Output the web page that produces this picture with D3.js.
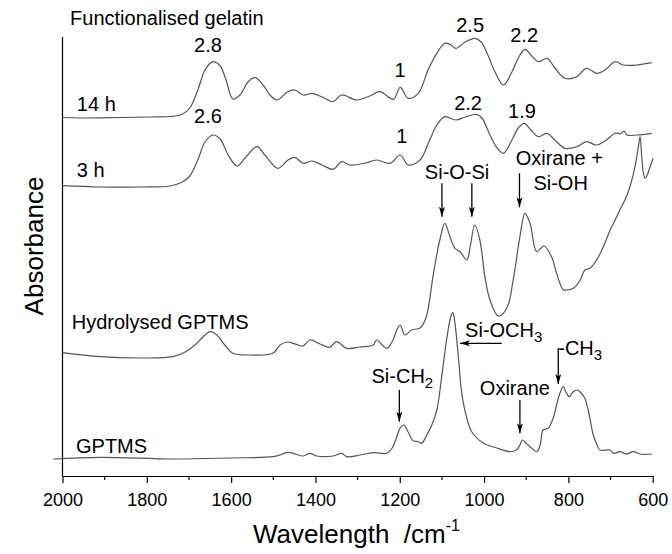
<!DOCTYPE html>
<html>
<head>
<meta charset="utf-8">
<script src="https://cdn.jsdelivr.net/npm/d3@7"></script>
<style>
  html, body { margin: 0; padding: 0; background: #fff; }
  svg { display: block; font-family: "Liberation Sans", Arial, sans-serif; }
</style>
</head>
<body>
<svg id="chart" width="672" height="554"></svg>
<script>
// spectra: [wavenumber /cm-1, absorbance (a.u., offset stacked)]
const gelatin14h = [
  [2000,3.585],[1958,3.58],[1864,3.585],[1792,3.59],[1745,3.595],[1717,3.615],[1698,3.68],[1679,3.86],
  [1662,4.06],[1643,4.143],[1626,4.10],[1612,3.96],[1596,3.77],[1579,3.81],[1560,3.94],[1543,3.983],
  [1524,3.91],[1508,3.81],[1491,3.76],[1467,3.84],[1449,3.86],[1429,3.81],[1408,3.827],[1384,3.79],
  [1358,3.743],[1338,3.81],[1302,3.76],[1271,3.80],[1247,3.843],[1215,3.767],[1199,3.887],[1180,3.777],
  [1156,3.827],[1133,4.06],[1112,4.227],[1093,4.327],[1078,4.31],[1067,4.277],[1045,4.34],[1022,4.377],
  [1007,4.34],[991,4.21],[974,4.04],[954,3.91],[934,4.04],[919,4.18],[903,4.267],[889,4.21],[871,4.143],
  [851,4.177],[832,4.08],[808,3.977],[780,3.993],[757,4.077],[733,4.027],[713,4.06],[689,4.143],
  [670,4.11],[638,4.11],[602,4.133]
];
const gelatin3h = [
  [2000,2.903],[1911,2.89],[1816,2.89],[1745,2.90],[1717,2.937],[1698,3.00],[1679,3.16],[1662,3.34],
  [1643,3.41],[1626,3.37],[1607,3.21],[1586,3.10],[1567,3.18],[1539,3.293],[1520,3.21],[1489,3.077],
  [1465,3.16],[1449,3.187],[1429,3.127],[1408,3.15],[1384,3.11],[1358,3.067],[1338,3.143],[1318,3.11],
  [1282,3.13],[1255,3.16],[1223,3.127],[1199,3.21],[1180,3.11],[1152,3.16],[1129,3.36],[1112,3.51],
  [1093,3.593],[1067,3.56],[1045,3.59],[1018,3.617],[1005,3.58],[986,3.41],[969,3.28],[954,3.227],
  [934,3.36],[919,3.48],[905,3.527],[889,3.46],[871,3.393],[851,3.427],[832,3.36],[808,3.277],
  [780,3.293],[757,3.343],[733,3.31],[713,3.35],[689,3.427],[675,3.425],[668,3.45],[661,3.41],
  [638,3.41],[602,3.427]
];
const hydrolysedGptms = [
  [2000,1.233],[1911,1.193],[1816,1.18],[1738,1.193],[1709,1.24],[1686,1.31],[1667,1.39],[1650,1.443],
  [1634,1.41],[1615,1.31],[1596,1.227],[1555,1.21],[1501,1.227],[1484,1.31],[1467,1.34],[1453,1.327],
  [1441,1.31],[1429,1.30],[1413,1.36],[1389,1.32],[1366,1.287],[1350,1.343],[1326,1.277],[1294,1.29],
  [1263,1.31],[1255,1.36],[1231,1.277],[1216,1.36],[1207,1.46],[1199,1.51],[1188,1.41],[1172,1.46],
  [1152,1.48],[1138,1.58],[1120,2.027],[1105,2.36],[1093,2.527],[1081,2.393],[1069,2.277],[1057,2.243],
  [1041,2.16],[1033,2.293],[1022,2.51],[1010,2.36],[998,1.993],[986,1.76],[966,1.60],[946,1.677],
  [931,1.96],[915,2.393],[903,2.627],[891,2.527],[875,2.243],[858,2.30],[840,2.193],[828,2.027],
  [812,1.86],[804,1.86],[788,1.877],[772,1.96],[761,2.06],[749,2.077],[733,2.16],[717,2.293],
  [701,2.46],[689,2.56],[678,2.66],[666,2.76],[654,2.893],[642,3.093],[634,3.293],[630,3.393],
  [626,3.193],[622,3.027],[618,2.977],[613,3.01],[606,3.093],[599,3.177]
];
const gptms = [
  [2022,0.17],[1911,0.187],[1738,0.17],[1603,0.18],[1501,0.193],[1484,0.21],[1468,0.237],[1453,0.227],
  [1429,0.20],[1413,0.227],[1397,0.20],[1358,0.20],[1338,0.227],[1326,0.193],[1294,0.21],[1263,0.233],
  [1231,0.227],[1218,0.28],[1207,0.393],[1199,0.48],[1190,0.51],[1180,0.44],[1168,0.353],[1156,0.343],
  [1148,0.327],[1136,0.41],[1124,0.51],[1112,0.66],[1100,1.01],[1089,1.36],[1079,1.593],[1074,1.633],
  [1069,1.527],[1061,1.193],[1053,0.83],[1041,0.58],[1029,0.44],[1002,0.33],[970,0.28],[939,0.243],
  [923,0.26],[915,0.31],[909,0.36],[901,0.33],[891,0.293],[875,0.243],[867,0.31],[860,0.46],
  [848,0.477],[836,0.58],[828,0.71],[820,0.83],[812,0.893],[806,0.84],[798,0.793],[789,0.84],
  [780,0.86],[772,0.84],[761,0.777],[753,0.66],[746,0.51],[741,0.41],[732,0.31],[725,0.26],
  [701,0.26],[693,0.227],[678,0.243],[662,0.22],[646,0.243],[630,0.22],[602,0.22]
];
const seriesList = [gelatin14h, gelatin3h, hydrolysedGptms, gptms];

const xTickLabels = [2000, 1800, 1600, 1400, 1200, 1000, 800, 600];
const xMinorTicks = [1900, 1700, 1500, 1300, 1100, 900, 700];

const svg = d3.select('#chart');
const x = d3.scaleLinear().domain([2000, 600]).range([62.5, 652.7]);
const y = d3.scaleLinear().domain([0, 4.39]).range([476, 37]);

// arrow head
svg.append('defs').append('marker')
  .attr('id', 'head')
  .attr('viewBox', '0 0 10 10')
  .attr('refX', 10).attr('refY', 5)
  .attr('markerWidth', 10).attr('markerHeight', 10)
  .attr('markerUnits', 'userSpaceOnUse')
  .attr('orient', 'auto')
  .append('path')
  .attr('d', 'M0,2 L10,5 L0,8 L2.5,5 Z')
  .attr('fill', '#000');

// axes
const xAxis = d3.axisBottom(x).tickValues(xTickLabels).tickFormat(d3.format('d'))
  .tickSize(7).tickSizeOuter(0).tickPadding(10);
const gx = svg.append('g').attr('transform', `translate(0,${y(0)})`).call(xAxis);
gx.selectAll('text').attr('font-size', 18).attr('font-family', '"Liberation Sans", Arial, sans-serif').attr('fill', '#000');
gx.selectAll('line, path').attr('stroke', '#000').attr('stroke-width', 1.2);
gx.selectAll('.minor').data(xMinorTicks).enter().append('line')
  .attr('x1', d => x(d)).attr('x2', d => x(d))
  .attr('y1', 0).attr('y2', 4)
  .attr('stroke', '#000').attr('stroke-width', 1.2);

svg.append('line')
  .attr('x1', x(2000)).attr('x2', x(2000))
  .attr('y1', y(0)).attr('y2', y(4.39))
  .attr('stroke', '#000').attr('stroke-width', 1.2);

// spectra
const line = d3.line()
  .x(d => x(d[0]))
  .y(d => y(d[1]))
  .curve(d3.curveCatmullRom.alpha(0.5));

svg.append('g').selectAll('path').data(seriesList).enter().append('path')
  .attr('d', line)
  .attr('fill', 'none')
  .attr('stroke', '#555')
  .attr('stroke-width', 1.2);

// labels
const lab = svg.append('g').attr('font-size', 20).attr('fill', '#000');
function text(str, wn, a, anchor) {
  return lab.append('text').attr('x', x(wn)).attr('y', y(a))
    .attr('text-anchor', anchor || 'start').text(str);
}
text('Functionalised gelatin', 1982, 4.51);
text('14 h', 1966, 3.65);
text('3 h', 1966, 2.993);
text('Hydrolysed GPTMS', 1978, 1.47);
text('GPTMS', 1968, 0.233);
text('2.8', 1655, 4.243, 'middle');
text('2.6', 1655, 3.53, 'middle');
text('1', 1199, 3.993, 'middle');
text('2.5', 1033, 4.437, 'middle');
text('2.2', 905, 4.337, 'middle');
text('1', 1195, 3.327, 'middle');
text('2.2', 1038, 3.66, 'middle');
text('1.9', 910, 3.577, 'middle');
text('Si-O-Si', 1064, 2.967, 'middle');
text('Oxirane +', 925, 3.11);
text('Si-OH', 883, 2.86);
text('Oxirane', 1010, 0.81);

const sub1 = text('Si-OCH', 1045, 1.393);
sub1.append('tspan').attr('font-size', 15).attr('dy', 5).text('3');
const sub2 = text('-CH', 824, 1.21);
sub2.append('tspan').attr('font-size', 15).attr('dy', 5).text('3');
const sub3 = text('Si-CH', 1267, 0.927);
sub3.append('tspan').attr('font-size', 15).attr('dy', 5).text('2');

// arrows: [wn1, a1, wn2, a2]
const arrows = [
  [1100, 2.927, 1100, 2.593],
  [1029, 2.927, 1029, 2.593],
  [916, 3.027, 916, 2.687],
  [958, 1.327, 1057, 1.327],
  [824, 1.28, 824, 0.92],
  [1201, 0.86, 1201, 0.543],
  [915, 0.76, 915, 0.427]
];
svg.append('g').selectAll('line').data(arrows).enter().append('line')
  .attr('x1', d => x(d[0])).attr('y1', d => y(d[1]))
  .attr('x2', d => x(d[2])).attr('y2', d => y(d[3]))
  .attr('stroke', '#000').attr('stroke-width', 1.3)
  .attr('marker-end', 'url(#head)');

// axis titles
svg.append('text')
  .attr('x', x(1548)).attr('y', 543)
  .attr('font-size', 26)
  .attr('xml:space', 'preserve')
  .style('white-space', 'pre')
  .text('Wavelength  /cm')
  .append('tspan').attr('font-size', 16).attr('dy', -12).text('-1');

svg.append('text')
  .attr('transform', `translate(43,${y(2.3)}) rotate(-90)`)
  .attr('text-anchor', 'middle')
  .attr('font-size', 26)
  .text('Absorbance');
</script>
</body>
</html>
